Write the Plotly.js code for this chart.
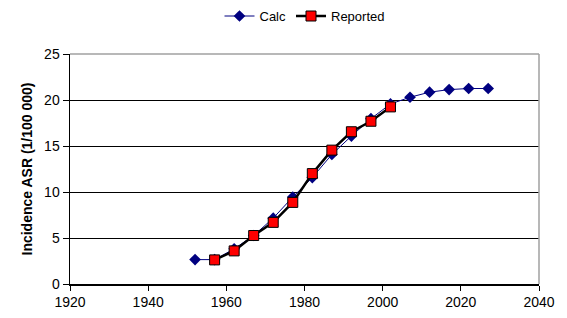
<!DOCTYPE html>
<html>
<head>
<meta charset="utf-8">
<script src="https://cdn.plot.ly/plotly-3.0.1.min.js"></script>
<style>html,body{margin:0;padding:0;background:#fff;}#chart{width:567px;height:318px;}</style>
</head>
<body>
<div id="chart"></div>
<script>
const calcYears = [1952,1957,1962,1967,1972,1977,1982,1987,1992,1997,2002,2007,2012,2017,2022,2027];
const calcValues = [2.65,2.65,3.82,5.27,7.16,9.45,11.57,14.08,16.08,17.97,19.57,20.3,20.85,21.13,21.25,21.25];
const reportedYears = [1957,1962,1967,1972,1977,1982,1987,1992,1997,2002];
const reportedValues = [2.62,3.6,5.27,6.7,8.87,12.0,14.55,16.55,17.69,19.25];
const xTicks = [1920,1940,1960,1980,2000,2020,2040];
const yTicks = [0,5,10,15,20,25];

const traces = [
  {x: calcYears, y: calcValues, name: 'Calc', type: 'scatter', mode: 'lines+markers',
   line: {color: '#000080', width: 1},
   marker: {symbol: 'diamond', size: 9, color: '#000080'}},
  {x: reportedYears, y: reportedValues, name: 'Reported', type: 'scatter', mode: 'lines+markers',
   line: {color: '#000000', width: 2.5},
   marker: {symbol: 'square', size: 10, color: '#ff0000', line: {color: '#000000', width: 1}}}
];

const layout = {
  width: 567, height: 318,
  margin: {l: 70, r: 28, t: 54, b: 34, autoexpand: false},
  paper_bgcolor: '#fff', plot_bgcolor: '#fff',
  font: {family: 'Arial, "Liberation Sans", sans-serif', size: 13, color: '#000'},
  showlegend: true,
  legend: {orientation: 'h', x: 0.5, xanchor: 'center', y: 1.165, yanchor: 'middle',
           font: {size: 13}, itemwidth: 30, tracegroupgap: 0},
  xaxis: {range: [1920, 2040], tickvals: xTicks, ticktext: xTicks.map(String),
          ticks: 'outside', ticklen: 5, tickcolor: '#000', showline: true, linecolor: '#000', linewidth: 1.5,
          showgrid: false, zeroline: false, tickfont: {size: 14}, automargin: false},
  yaxis: {range: [0, 25], tickvals: yTicks, ticktext: yTicks.map(String),
          ticks: 'outside', ticklen: 6, tickcolor: '#000', showline: true, linecolor: '#000', linewidth: 1.5,
          showgrid: true, gridcolor: '#000', gridwidth: 1, zeroline: false, tickfont: {size: 14}, automargin: false,
          title: {text: '<b>Incidence ASR (1/100 000)</b>', font: {size: 14}, standoff: 8}},
  shapes: [
    {type: 'line', xref: 'paper', yref: 'paper', x0: 0, x1: 1, y0: 1, y1: 1, line: {color: '#a0a0a0', width: 1.5}, layer: 'above'},
    {type: 'line', xref: 'paper', yref: 'paper', x0: 1, x1: 1, y0: 0, y1: 1, line: {color: '#a0a0a0', width: 1.5}, layer: 'above'}
  ]
};

Plotly.newPlot('chart', traces, layout, {displayModeBar: false, staticPlot: true});
</script>
</body>
</html>
